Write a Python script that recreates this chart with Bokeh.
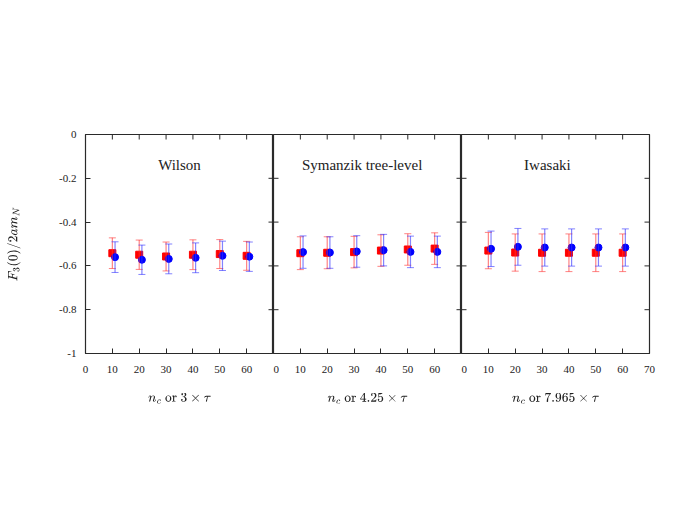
import math
from bokeh.plotting import figure
from bokeh.layouts import gridplot
from bokeh.models import (ColumnDataSource, Range1d, LinearAxis, FixedTicker,
                          Whisker, TeeHead, Label)
from bokeh.transform import dodge
from bokeh.embed import file_html
from bokeh.resources import INLINE

# ---------------- data ----------------
nc = [10, 20, 30, 40, 50, 60]

panel_titles = ["Wilson", "Symanzik tree-level", "Iwasaki"]
x_axis_labels = [r"$$n_c \text{ or } 3 \times \tau$$",
                 r"$$n_c \text{ or } 4.25 \times \tau$$",
                 r"$$n_c \text{ or } 7.965 \times \tau$$"]
y_axis_label = r"$$F_3(0)/2am_N$$"

wilson_red = [-0.542, -0.549, -0.557, -0.549, -0.546, -0.554]
wilson_red_err = [0.070, 0.067, 0.066, 0.068, 0.066, 0.066]
wilson_blue = [-0.560, -0.572, -0.568, -0.563, -0.554, -0.558]
wilson_blue_err = [0.070, 0.067, 0.068, 0.068, 0.067, 0.067]

symanzik_red = [-0.542, -0.540, -0.537, -0.530, -0.525, -0.521]
symanzik_red_err = [0.075, 0.073, 0.072, 0.072, 0.072, 0.072]
symanzik_blue = [-0.537, -0.539, -0.534, -0.528, -0.536, -0.536]
symanzik_blue_err = [0.074, 0.072, 0.072, 0.072, 0.072, 0.072]

iwasaki_red = [-0.530, -0.539, -0.540, -0.540, -0.540, -0.540]
iwasaki_red_err = [0.083, 0.085, 0.086, 0.086, 0.086, 0.086]
iwasaki_blue = [-0.522, -0.513, -0.516, -0.516, -0.516, -0.516]
iwasaki_blue_err = [0.081, 0.084, 0.085, 0.085, 0.085, 0.085]

x_ticks = [0, 10, 20, 30, 40, 50, 60, 70]
x_tick_labels = ["0", "10", "20", "30", "40", "50", "60", "70"]
y_ticks = [0, -0.2, -0.4, -0.6, -0.8, -1]
y_tick_labels = ["0", "-0.2", "-0.4", "-0.6", "-0.8", "-1"]

panels = [
    (wilson_red, wilson_red_err, wilson_blue, wilson_blue_err),
    (symanzik_red, symanzik_red_err, symanzik_blue, symanzik_blue_err),
    (iwasaki_red, iwasaki_red_err, iwasaki_blue, iwasaki_blue_err),
]
title_x = [35, 33, 32]

FONT = "Liberation Serif"
TXT = "#222222"
FRAME = "#2a2a2a"


def make_src(vals, errs):
    return ColumnDataSource(dict(
        x=nc, y=vals,
        upper=[v + e for v, e in zip(vals, errs)],
        lower=[v - e for v, e in zip(vals, errs)],
    ))


figs = []
for i, (rv, re_, bv, be) in enumerate(panels):
    first = i == 0
    last = i == 2
    xr = Range1d(0, 70)
    yr = Range1d(-1, 0)
    p = figure(frame_width=188, frame_height=219,
               x_range=xr, y_range=yr,
               output_backend="svg", toolbar_location=None,
               x_axis_location=None, y_axis_location=None,
               min_border_left=85 if first else 0,
               min_border_right=32 if last else 0,
               min_border_top=134, min_border_bottom=150,
               outline_line_color=FRAME, outline_line_width=1.2,
               background_fill_color="white", border_fill_color="white")
    p.grid.visible = False

    # bottom axis with labels
    overrides = {t: l for t, l in zip(x_ticks, x_tick_labels)}
    if not last:
        overrides[70] = ""
    bottom = LinearAxis(ticker=FixedTicker(ticks=x_ticks),
                        major_label_overrides=overrides,
                        major_tick_in=5, major_tick_out=0,
                        minor_tick_in=0, minor_tick_out=0,
                        axis_line_color=None,
                        major_tick_line_color=FRAME,
                        major_label_standoff=12,
                        major_label_text_font=FONT,
                        major_label_text_font_size="11px",
                        major_label_text_color=TXT,
                        axis_label=x_axis_labels[i],
                        axis_label_standoff=17,
                        axis_label_text_font=FONT,
                        axis_label_text_font_size="13px",
                        axis_label_text_font_style="normal",
                        axis_label_text_color=TXT)
    p.add_layout(bottom, "below")

    if first:
        left = LinearAxis(ticker=FixedTicker(ticks=y_ticks),
                          major_label_overrides={t: l for t, l in zip(y_ticks, y_tick_labels)},
                          major_tick_in=5, major_tick_out=0,
                          minor_tick_in=0, minor_tick_out=0,
                          axis_line_color=None,
                          major_tick_line_color=FRAME,
                          major_label_standoff=9,
                          major_label_text_font=FONT,
                          major_label_text_font_size="11px",
                          major_label_text_color=TXT,
                          axis_label=y_axis_label,
                          axis_label_standoff=34,
                          axis_label_text_font=FONT,
                          axis_label_text_font_size="13px",
                          axis_label_text_font_style="normal",
                          axis_label_text_color=TXT)
        p.add_layout(left, "left")

    # inward tick marks on the other frame edges (dash markers clipped by frame)
    ytick_x = ([] if first else [xr.start] * len(y_ticks)) + [xr.end] * len(y_ticks)
    ytick_y = ([] if first else list(y_ticks)) + list(y_ticks)
    p.scatter(x=ytick_x, y=ytick_y, marker="dash", size=10,
              line_color=FRAME, line_width=1)
    p.scatter(x=x_ticks, y=[yr.end] * len(x_ticks), marker="dash", size=10,
              angle=math.pi / 2, line_color=FRAME, line_width=1)

    rsrc = make_src(rv, re_)
    bsrc = make_src(bv, be)
    bx = dodge("x", 1, range=p.x_range)

    p.add_layout(Whisker(base="x", upper="upper", lower="lower", source=rsrc,
                         dimension="height", line_color="#ff3030", line_alpha=0.6,
                         line_width=1.2,
                         upper_head=TeeHead(size=7, line_color="#ff3030", line_alpha=0.6),
                         lower_head=TeeHead(size=7, line_color="#ff3030", line_alpha=0.6),
                         level="glyph"))
    p.add_layout(Whisker(base=bx, upper="upper", lower="lower", source=bsrc,
                         dimension="height", line_color="#3030ff", line_alpha=0.6,
                         line_width=1.2,
                         upper_head=TeeHead(size=7, line_color="#3030ff", line_alpha=0.6),
                         lower_head=TeeHead(size=7, line_color="#3030ff", line_alpha=0.6),
                         level="glyph"))
    p.scatter(x="x", y="y", source=rsrc, marker="square", size=7,
              fill_color="red", line_color="red")
    p.scatter(x=bx, y="y", source=bsrc, marker="circle", size=7,
              fill_color="blue", line_color="blue")

    p.add_layout(Label(x=title_x[i], y=-0.137, text=panel_titles[i],
                       text_align="center", text_baseline="middle",
                       text_font=FONT, text_font_size="15px",
                       text_color=TXT))
    figs.append(p)

grid = gridplot([figs], toolbar_location=None)

open("out.html", "w").write(file_html(grid, INLINE))
